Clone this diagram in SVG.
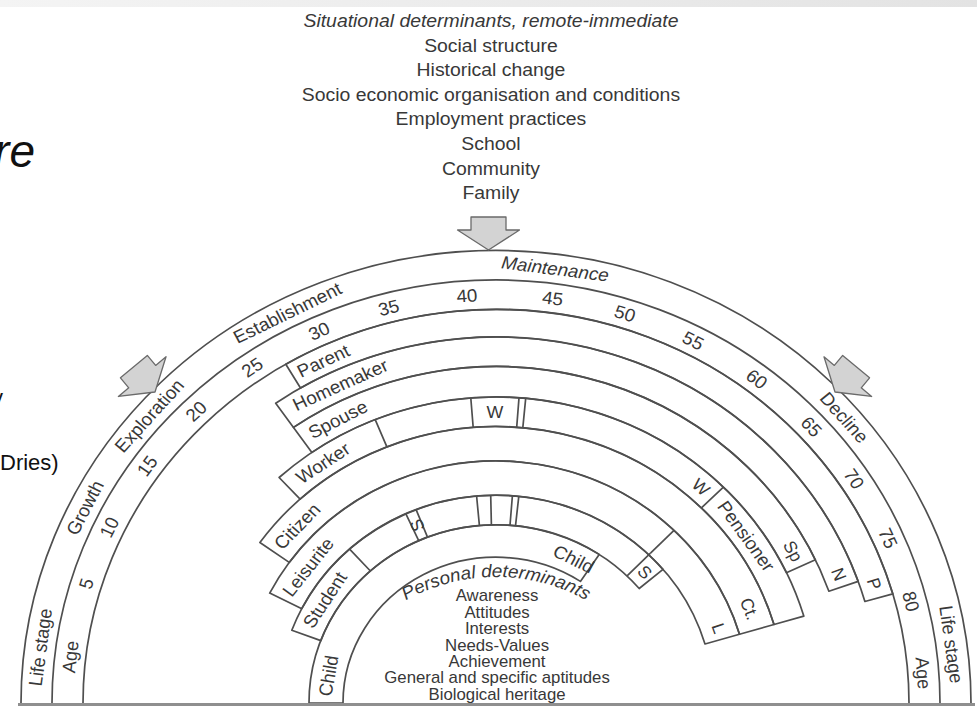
<svg xmlns="http://www.w3.org/2000/svg" width="977" height="711" viewBox="0 0 977 711">
<defs>
<linearGradient id="topband" x1="0" y1="0" x2="1" y2="0">
<stop offset="0" stop-color="#f4f4f4"/>
<stop offset="1" stop-color="#e3e3e3"/>
</linearGradient>
<path id="arrow" d="M-17.5 -33 L17.5 -33 L17.5 -20 L31 -20 L0 0 L-31 -20 L-17.5 -20 Z"/>
<path id="pdpath" d="M326 747 A170 170 0 0 1 666 747"/>
</defs>
<style>
.ln{fill:none;stroke:#4f4f4f;stroke-width:1.7;stroke-linejoin:round}
.t{font-family:"Liberation Sans",Arial,Helvetica,sans-serif;fill:#383838;font-size:18px;text-anchor:middle;dominant-baseline:central}
.sm{font-size:17px}
.it{font-style:italic}
.h{dominant-baseline:alphabetic}
.hd{font-size:18.5px}
.pd{font-size:16px}
.arr{fill:#d3d3d3;stroke:#6a6a6a;stroke-width:1.3;stroke-linejoin:round}
.slide{font-family:"Liberation Sans",Arial,sans-serif;fill:#111}
</style>
<rect x="0" y="0" width="977" height="711" fill="#ffffff"/>
<rect x="0" y="0" width="977" height="7" fill="url(#topband)"/>

<g id="slide-fragments">
<text class="slide" x="35" y="167" font-size="46" font-style="italic" text-anchor="end">re</text>
<text class="slide" x="-8" y="404.5" font-size="22">y</text>
<text class="slide" x="0" y="470" font-size="22">Dries)</text>
</g>

<g id="situational" transform="matrix(1.049 0 0 1 -24.3 0)">
<text class="t h hd it" x="491.2" y="27">Situational determinants, remote-immediate</text>
<text class="t h hd" x="491.2" y="51.6">Social structure</text>
<text class="t h hd" x="491.2" y="76.2">Historical change</text>
<text class="t h hd" x="491.2" y="100.8">Socio economic organisation and conditions</text>
<text class="t h hd" x="491.2" y="125.4">Employment practices</text>
<text class="t h hd" x="491.2" y="150">School</text>
<text class="t h hd" x="491.2" y="174.6">Community</text>
<text class="t h hd" x="491.2" y="199.2">Family</text>
</g>

<g id="life-stage-ring">
<path class="ln" d="M21 703 A475 452.7 0 0 1 971 703"/>
<path class="ln" d="M52 703 A444 423.1 0 0 1 940 703"/>
<text class="t" transform="translate(40.2 647.3) scale(1.049 1) rotate(-82.7)">Life stage</text>
<text class="t" transform="translate(84.8 507.6) scale(1.049 1) rotate(-63.5)">Growth</text>
<text class="t" transform="translate(149.2 415.7) scale(1.049 1) rotate(-49)">Exploration</text>
<text class="t" transform="translate(287.4 312.8) scale(1.049 1) rotate(-27)">Establishment</text>
<text class="t it" transform="translate(555.2 268.7) scale(1.049 1) rotate(7.4)">Maintenance</text>
<text class="t" transform="translate(844.3 417.4) scale(1.049 1) rotate(49.3)">Decline</text>
<text class="t" transform="translate(951.4 644.3) scale(1.049 1) rotate(82.3)">Life stage</text>
</g>

<g id="age-ring">
<path class="ln" d="M83 703 A413 393.6 0 0 1 909 703"/>
<text class="t" transform="translate(70.2 656.8) scale(1.049 1) rotate(-83.5)">Age</text>
<text class="t" transform="translate(86.2 583.6) scale(1.049 1) rotate(-73)">5</text>
<text class="t" transform="translate(109.2 527.2) scale(1.049 1) rotate(-64.5)">10</text>
<text class="t" transform="translate(147.2 465.9) scale(1.049 1) rotate(-54.5)">15</text>
<text class="t" transform="translate(196.2 411.2) scale(1.049 1) rotate(-44.4)">20</text>
<text class="t" transform="translate(252.1 367.3) scale(1.049 1) rotate(-34.7)">25</text>
<text class="t" transform="translate(319 331.1) scale(1.049 1) rotate(-24.4)">30</text>
<text class="t" transform="translate(388.7 307.7) scale(1.049 1) rotate(-14.5)">35</text>
<text class="t" transform="translate(466.9 295.6) scale(1.049 1) rotate(-3.9)">40</text>
<text class="t" transform="translate(552.7 298.2) scale(1.049 1) rotate(7.6)">45</text>
<text class="t" transform="translate(624.9 313.5) scale(1.049 1) rotate(17.5)">50</text>
<text class="t" transform="translate(693.2 340.5) scale(1.049 1) rotate(27.4)">55</text>
<text class="t" transform="translate(756.9 379) scale(1.049 1) rotate(37.5)">60</text>
<text class="t" transform="translate(811.4 426.6) scale(1.049 1) rotate(47.4)">65</text>
<text class="t" transform="translate(854.1 478.8) scale(1.049 1) rotate(56.7)">70</text>
<text class="t" transform="translate(888.1 538.2) scale(1.049 1) rotate(66.2)">75</text>
<text class="t" transform="translate(911 601.4) scale(1.049 1) rotate(75.6)">80</text>
<text class="t" transform="translate(923.3 673.1) scale(1.049 1) rotate(85.8)">Age</text>
</g>

<g id="parent">
<path class="ln" d="M285.8 364.2 A413 393.6 0 0 1 892.8 593.9 L864.9 601.5 A384 366 0 0 0 300.5 388 Z"/>
<text class="t" transform="translate(323.2 360.8) scale(1.049 1) rotate(-25.7)">Parent</text>
<text class="t sm" transform="translate(874.3 583.8) scale(1.049 1) rotate(71.7)">P</text>
</g>

<g id="homemaker">
<path class="ln" d="M275.7 403.2 A384 366 0 0 1 858.2 581.4 L828.9 591.2 A353 336.4 0 0 0 293.5 427.4 Z"/>
<text class="t" transform="translate(340.3 384.7) scale(1.049 1) rotate(-25)">Homemaker</text>
<text class="t sm" transform="translate(838.9 574.3) scale(1.049 1) rotate(68.5)">N</text>
</g>

<g id="spouse">
<path class="ln" d="M293.5 427.4 A353 336.4 0 0 1 815.4 559.8 L786.4 572.7 A321 305.9 0 0 0 311.9 452.4 Z"/>
<text class="t" transform="translate(337.8 419.4) scale(1.049 1) rotate(-28)">Spouse</text>
<text class="t sm" transform="translate(793 551.2) scale(1.049 1) rotate(61.8)">Sp</text>
</g>

<g id="worker">
<path class="ln" d="M279.1 477.5 A321 305.9 0 0 1 803.8 616.1 L774 624.5 A290 276.4 0 0 0 300.1 499.2 Z"/>
<path class="ln" d="M375.2 419.6 L386.9 446.9 M470.8 398 L473.2 427.5 M519 397.9 L516.7 427.3 M525.7 398.4 L522.8 427.8 M723.4 487.1 L701.4 507.9"/>
<text class="t" transform="translate(323 463) scale(1.049 1) rotate(-34.5)">Worker</text>
<text class="t sm" transform="translate(494.9 411.9) scale(1.049 1)">W</text>
<text class="t sm" transform="translate(700.8 487) scale(1.049 1) rotate(42.1)">W</text>
<text class="t" transform="translate(746.3 536) scale(1.049 1) rotate(55)">Pensioner</text>
</g>

<g id="citizen">
<path class="ln" d="M259.9 542.5 A290 276.4 0 0 1 774 624.5 L739.5 634.2 A254 242.1 0 0 0 289.2 562.4 Z"/>
<text class="t" transform="translate(297.1 526.2) scale(1.049 1) rotate(-47)">Citizen</text>
<text class="t sm" transform="translate(749.4 608.8) scale(1.049 1) rotate(68.7)">Ct.</text>
</g>

<g id="leisurite">
<path class="ln" d="M269.7 593.1 A254 242.1 0 0 1 739.5 634.2 L705 644 A218 207.8 0 0 0 301.8 608.7 Z"/>
<path class="ln" d="M674 530.3 L650.5 553.1"/>
<text class="t" transform="translate(308 567) scale(1.049 1) rotate(-52.8)">Leisurite</text>
<text class="t sm" transform="translate(718.6 628.3) scale(1.049 1) rotate(70.6)">L</text>
</g>

<g id="student">
<path class="ln" d="M291.8 630.2 A218 207.8 0 0 1 663 569.4 L639.2 588.5 A187 178.2 0 0 0 320.8 640.6 Z"/>
<path class="ln" d="M349.6 549.1 L370.4 571 M405.9 513.8 L418.7 540.7 M416.1 509.7 L427.5 537.2 M476.6 496 L479.4 525.5 M490.7 495.3 L491.4 524.9 M512.4 495.8 L510 525.3 M518.8 496.3 L515.5 525.8 M650.5 553.1 L627.1 575.9"/>
<text class="t" transform="translate(324.8 599.9) scale(1.049 1) rotate(-57.7)">Student</text>
<text class="t sm" transform="translate(417.2 525.2) scale(1.049 1) rotate(-113)">S</text>
<text class="t sm" transform="translate(644.8 572.1) scale(1.049 1) rotate(47.3)">S</text>
</g>

<g id="child">
<path class="ln" d="M309 703 A187 178.2 0 0 1 599.2 554.4 L580.4 581.4 A153 145.8 0 0 0 343 703 Z"/>
<text class="t" transform="translate(328.4 675.7) scale(1.049 1) rotate(-80.3)">Child</text>
<text class="t" transform="translate(573.7 558.9) scale(1.049 1) rotate(27.2)">Child</text>
</g>

<g id="personal-determinants" transform="matrix(1.049 0 0 1 -24.3 0)">
<text class="t h it"><textPath href="#pdpath" startOffset="50%">Personal determinants</textPath></text>
<text class="t h pd" x="497" y="601.5">Awareness</text>
<text class="t h pd" x="497" y="618">Attitudes</text>
<text class="t h pd" x="497" y="634.3">Interests</text>
<text class="t h pd" x="497" y="650.6">Needs-Values</text>
<text class="t h pd" x="497" y="667">Achievement</text>
<text class="t h pd" x="497" y="683.5">General and specific aptitudes</text>
<text class="t h pd" x="497" y="700">Biological heritage</text>
</g>

<line x1="18" y1="704.5" x2="975" y2="704.5" stroke="#8f8f8f" stroke-width="3"/>

<g id="connectors">
<use href="#arrow" class="arr" transform="translate(488.5 250)"/>
<use href="#arrow" class="arr" transform="translate(155 392) rotate(-39.8)"/>
<use href="#arrow" class="arr" transform="translate(835 392) rotate(39.8)"/>
</g>
</svg>
